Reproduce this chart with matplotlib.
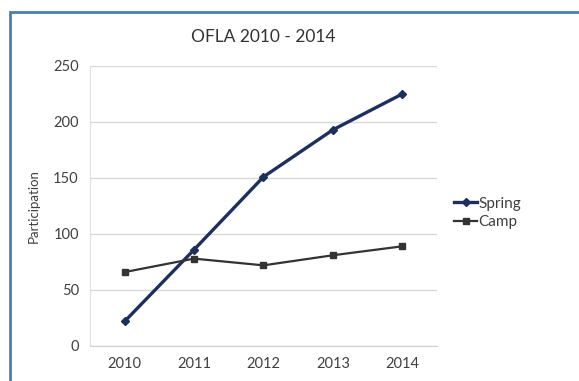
import matplotlib
matplotlib.use('Agg')
import matplotlib.pyplot as plt
from matplotlib.patches import Rectangle

years = ['2010', '2011', '2012', '2013', '2014']
spring = [22, 86, 151, 193, 225]
camp = [66, 78, 72, 81, 89]

plt.rcParams['font.family'] = ['Lato', 'DejaVu Sans']

fig = plt.figure(figsize=(5.79, 3.81), dpi=100)
ax = fig.add_axes([0.1554, 0.0919, 0.5993, 0.7349])

x = range(len(years))
ax.plot(x, spring, color='#1c2f5e', linewidth=2.4, marker='D', markersize=4, label='Spring')
ax.plot(x, camp, color='#333333', linewidth=1.6, marker='s', markersize=4, label='Camp')

ax.set_xlim(-0.5, 4.5)
ax.set_ylim(0, 250)
ax.set_yticks([0, 50, 100, 150, 200, 250])
ax.set_xticks(list(x))
ax.set_xticklabels(years)
ax.grid(axis='y', color='#d9d9d9', linewidth=1)
ax.set_axisbelow(True)
ax.tick_params(length=0, labelsize=10.5, colors='#404040', pad=8)
for s in ['top', 'right']:
    ax.spines[s].set_visible(False)
ax.spines['left'].set_color('#e0e0e0')
ax.spines['bottom'].set_color('#d0d0d0')
ax.set_ylabel('Participation', fontsize=9.5, color='#404040', labelpad=10)
ax.set_title('OFLA 2010 - 2014', fontsize=12.5, color='#333333', pad=17)

ax.legend(loc='center left', bbox_to_anchor=(1.01, 0.475), frameon=False,
          fontsize=11, handlelength=1.5, handletextpad=0.1, labelspacing=0.3,
          labelcolor='#404040')

fig.patches.append(Rectangle((10 / 579, -0.1), 1.2, 1 - 12 / 381 + 0.1,
                             transform=fig.transFigure, fill=False,
                             edgecolor='#4a7ebb', linewidth=2))

fig.savefig('out.png', dpi=100)
